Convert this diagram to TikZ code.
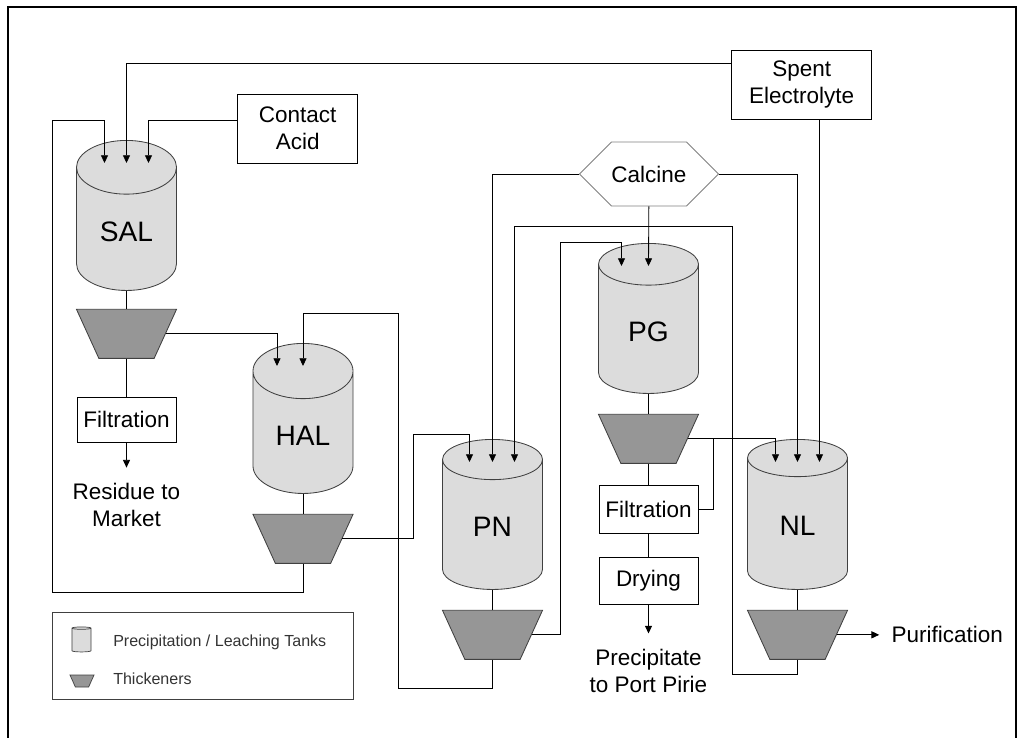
\documentclass[tikz,border=0pt]{standalone}
\usepackage{fontspec}
\setmainfont{Liberation Sans}
\usetikzlibrary{shapes.geometric, shapes.symbols, arrows.meta, positioning, calc}
\definecolor{tankgray}{HTML}{DCDCDC}
\definecolor{thickgray}{HTML}{969696}
\definecolor{edgegray}{HTML}{404040}
\definecolor{hexgray}{HTML}{808080}
\definecolor{legendtext}{HTML}{333333}

\begin{document}
\begin{tikzpicture}[
    x=0.025cm, y=-0.025cm,
    >={Triangle[length=5.5pt, width=5pt]},
    tank/.style={cylinder, shape border rotate=90, aspect=0.96, draw=edgegray, fill=tankgray, line width=0.6pt, minimum width=2.5cm, minimum height=3.75cm, inner sep=1pt, anchor=north, font=\fontsize{20}{24}\selectfont},
    thickener/.style={trapezium, trapezium left angle=112, trapezium right angle=112, trapezium stretches=true, draw=edgegray, fill=thickgray, line width=0.6pt, minimum width=2.5cm, minimum height=1.225cm, inner sep=1pt},
    box/.style={draw, line width=0.6pt, align=center, inner sep=0pt, minimum width=2.475cm, minimum height=1.175cm, font=\fontsize{16}{19.2}\selectfont},
    feed/.style={signal, signal to=west and east, draw=hexgray, line width=0.6pt, minimum width=3.35cm, minimum height=1.6cm, inner sep=0pt, font=\fontsize{16}{19.2}\selectfont},
    outlabel/.style={align=center, inner xsep=0.3cm, inner ysep=0.38cm, font=\fontsize{16}{19.2}\selectfont},
    legtext/.style={anchor=west, inner sep=0pt, text=legendtext, font=\fontsize{11.4}{13}\selectfont},
    flow/.style={->, line width=0.6pt},
    pipe/.style={line width=0.6pt}
  ]
    \useasboundingbox (0,0) rectangle (1018,737);
    \draw[line width=0.05cm] (8,7) rectangle (1016,760);

    % tanks and thickeners
    \node[tank] (sal) at (126.5,140) {SAL};
    \node[tank] (hal) at (303,343) {HAL};
    \node[tank] (pn) at (492.5,439) {PN};
    \node[tank] (pg) at (648.5,243) {PG};
    \node[tank] (nl) at (797.5,439) {NL};
    \node[thickener, below=0.45cm of sal] (salthk) {};
    \node[thickener, below=0.5cm of hal] (halthk) {};
    \node[thickener, below=0.5cm of pn] (pnthk) {};
    \node[thickener, below=0.5cm of pg] (pgthk) {};
    \node[thickener, below=0.5cm of nl] (nlthk) {};

    \node[box, minimum width=3cm, minimum height=1.725cm] (acid) at (297.7,128.5) {Contact\\Acid};
    \node[box, minimum width=3.5cm, minimum height=1.725cm] (spent) at (801.7,84.5) {Spent\\Electrolyte};
    \node[feed] (calcine) at (649,174) {Calcine};
    \node[box, minimum height=1.125cm, below=0.95cm of salthk] (filt1) {Filtration};
    \node[box, minimum height=1.2cm, below=0.525cm of pgthk] (filt2) {Filtration};
    \node[box, below=0.575cm of filt2] (dry) {Drying};
    \node[outlabel, below=0.625cm of filt1] (residue) {Residue to\\Market};
    \node[outlabel, below=0.725cm of dry] (precip) {Precipitate\\to Port Pirie};
    \node[outlabel, right=1.06cm of nlthk] (purif) {Purification};

    % inlet points on the tank tops
    \coordinate (sal-in1) at ($(sal.north)+(-22,23)$);
    \coordinate (sal-in2) at ($(sal.north)+(0,23)$);
    \coordinate (sal-in3) at ($(sal.north)+(22,23)$);
    \coordinate (hal-in1) at ($(hal.north)+(-26,23)$);
    \coordinate (hal-in2) at ($(hal.north)+(0,23)$);
    \coordinate (pn-in1) at ($(pn.north)+(-23,23)$);
    \coordinate (pn-in2) at ($(pn.north)+(0,23)$);
    \coordinate (pn-in3) at ($(pn.north)+(22,23)$);
    \coordinate (pg-in1) at ($(pg.north)+(-27,23)$);
    \coordinate (pg-in2) at ($(pg.north)+(0,23)$);
    \coordinate (nl-in1) at ($(nl.north)+(-22,23)$);
    \coordinate (nl-in2) at ($(nl.north)+(0,23)$);
    \coordinate (nl-in3) at ($(nl.north)+(22,23)$);

    \draw[pipe] (sal) -- (salthk);
    \draw[pipe] (hal) -- (halthk);
    \draw[pipe] (pn) -- (pnthk);
    \draw[pipe] (pg) -- (pgthk);
    \draw[pipe] (nl) -- (nlthk);
    \draw[pipe] (salthk) -- (filt1);
    \draw[pipe] (pgthk) -- (filt2);
    \draw[pipe] (filt2) -- (dry);
    \draw[flow] (filt1) -- (residue);
    \draw[flow] (dry) -- (precip);
    \draw[flow] (nlthk.east) -- (purif);

    \draw[flow] ($(acid.west)+(0,-8)$) -| (sal-in3);
    \draw[flow] ($(spent.west)+(0,-21)$) -| (sal-in2);
    \draw[flow] (spent.south -| nl-in3) -- (nl-in3);
    \draw[flow] (halthk.south) -- ++(0,29) -| (52,120) -| (sal-in1);
    \draw[flow] (salthk.east) -| (hal-in1);
    \draw[flow] (pnthk.south) -- ++(0,29) -| (398,313) -| (hal-in2);
    \draw[flow] (halthk.east) -| (413,434) -| (pn-in1);
    \draw[flow] (calcine.west) -| (pn-in2);
    \draw[flow] (calcine.east) -| (nl-in2);
    \draw[flow] (calcine) -- (pg-in2);
    \draw[flow] (nlthk.south) -- ++(0,15) -| (732,226) -| (pn-in3);
    \draw[flow] (pnthk.east) -| (560,242) -| (pg-in1);
    \draw[flow] (pgthk.east) -| (nl-in1);
    \draw[pipe] (filt2.east) -| ($(pgthk.east)+(26,0)$);

    % legend
    \node[draw=edgegray, line width=0.6pt, minimum width=7.525cm, minimum height=2.175cm] (legend) at (202.5,655.5) {};
    \node[cylinder, shape border rotate=90, aspect=0.84, draw=edgegray, fill=tankgray, line width=0.5pt, minimum width=0.475cm, minimum height=0.625cm, inner sep=1pt] (legtank) at (81.5,640.5) {};
    \node[trapezium, trapezium left angle=112, trapezium right angle=112, trapezium stretches=true, draw=edgegray, fill=thickgray, line width=0.5pt, minimum width=0.6cm, minimum height=0.3cm, inner sep=1pt] (legthk) at (82,681) {};
    \node[legtext] (legtanktext) at (113,642) {Precipitation / Leaching Tanks};
    \node[legtext] (legthktext) at (113,679) {Thickeners};
\end{tikzpicture}
\end{document}
